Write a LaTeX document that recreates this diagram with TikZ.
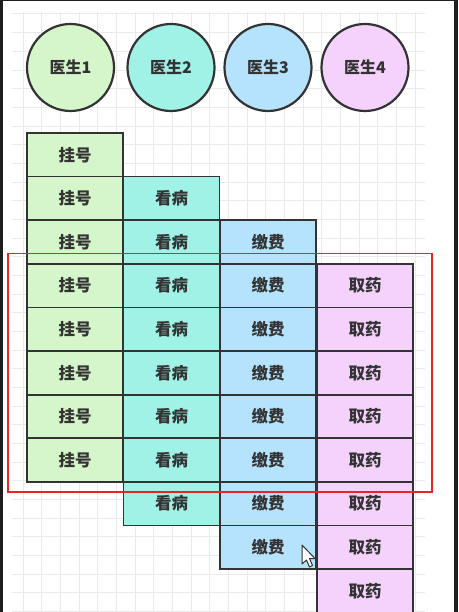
\documentclass[tikz,border=0pt]{standalone}
\usepackage{fontspec}
\newfontfamily\cjk{Noto Sans CJK SC}
\definecolor{cA}{RGB}{213,246,202}
\definecolor{cB}{RGB}{160,241,230}
\definecolor{cC}{RGB}{181,226,252}
\definecolor{cD}{RGB}{245,210,252}
\definecolor{ink}{RGB}{51,51,51}
\definecolor{gridc}{RGB}{234,234,234}
\definecolor{frame}{RGB}{30,30,30}
\definecolor{hl}{RGB}{235,35,35}
\tikzset{
  doc/.style={circle,draw=ink,line width=2.2pt,minimum size=87pt,inner sep=0pt,
    font=\cjk\bfseries\fontsize{16}{18}\selectfont,text=ink},
  cell/.style={rectangle,draw=ink,line width=1.8pt,minimum width=96pt,minimum height=43.6pt,
    inner sep=0pt,font=\cjk\bfseries\fontsize{16.5}{18}\selectfont,text=ink},
}
\begin{document}
\begin{tikzpicture}[x=1pt,y=-1pt]
\useasboundingbox (0,0) rectangle (458,612);
\fill[white] (0,0) rectangle (458,612);
% grid
\foreach \i in {0,...,21} {\draw[gridc,line width=1pt] (23+\i*18.67,12) -- (23+\i*18.67,612);}
\foreach \j in {0,...,32} {\draw[gridc,line width=1pt] (12,14+\j*18.67) -- (425,14+\j*18.67);}
% screen frame
\fill[frame] (0,0) rectangle (3,612);
\fill[frame] (454,0) rectangle (458,612);
\fill[frame] (0,0) rectangle (458,1);
% doctors
\node[doc,fill=cA] (d1) at (70.5,67.5) {医生1};
\node[doc,fill=cB] (d2) at (171,67.5) {医生2};
\node[doc,fill=cC] (d3) at (268,67.5) {医生3};
\node[doc,fill=cD] (d4) at (365,67.5) {医生4};
% cells
\foreach \r in {1,...,8} {\node[cell,fill=cA] (a\r) at (75,111.2+\r*43.6) {挂号};}
\foreach \r in {2,...,9} {\node[cell,fill=cB] (b\r) at (171.5,111.2+\r*43.6) {看病};}
\foreach \r in {3,...,10} {\node[cell,fill=cC] (c\r) at (268,111.2+\r*43.6) {缴费};}
\foreach \r in {4,...,11} {\node[cell,fill=cD] (e\r) at (365,111.2+\r*43.6) {取药};}
% highlight
\draw[hl,line width=1.5pt] (8,253.5) rectangle (432,492);
% cursor
\draw[ink,fill=white,line width=1pt,line join=round] (302,545) -- (302,564) -- (306.5,560) -- (309.5,567) -- (312.5,565.5) -- (309.5,558.5) -- (315,558.5) -- cycle;
\end{tikzpicture}
\end{document}
